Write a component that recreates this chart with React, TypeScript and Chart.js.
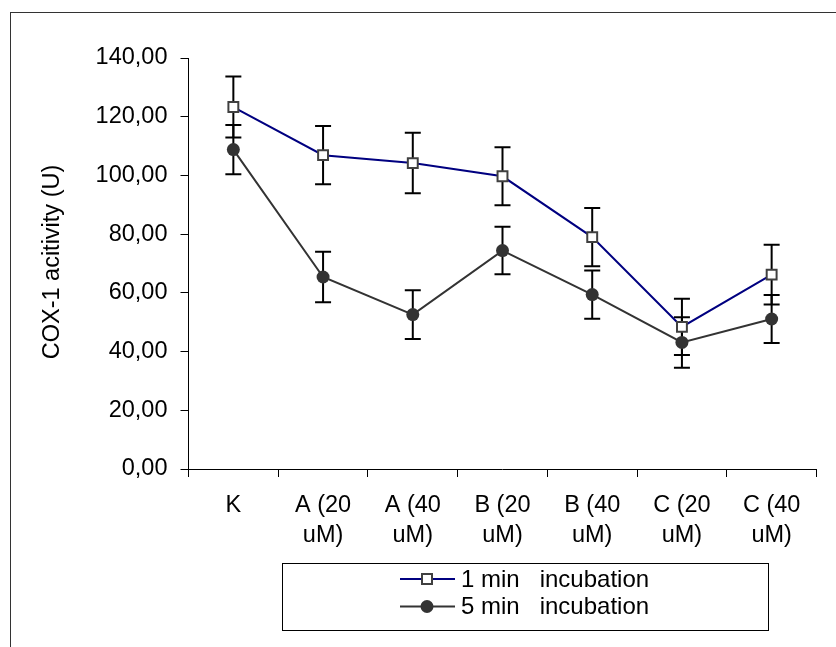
import React, { useEffect, useRef } from "react";
import { Chart, registerables } from "chart.js";

Chart.register(...registerables);

// ---- data ----
const categories: string[][] = [
  ["K"],
  ["A (20", "uM)"],
  ["A (40", "uM)"],
  ["B (20", "uM)"],
  ["B (40", "uM)"],
  ["C (20", "uM)"],
  ["C (40", "uM)"],
];
const seriesNames = ["1 min   incubation", "5 min   incubation"];
const oneMin = [123.3, 106.9, 104.2, 99.7, 79.0, 48.4, 66.2];
const oneMinErr = [10.4, 9.9, 10.3, 9.9, 9.9, 9.6, 10.2];
const fiveMin = [108.8, 65.4, 52.6, 74.4, 59.4, 43.1, 51.1];
const fiveMinErr = [8.4, 8.6, 8.3, 8.1, 8.2, 8.6, 8.2];
const yMin = 0;
const yMax = 140;
const yStep = 20;
const yTitle = "COX-1 acitivity (U)";

const FONT = "'Liberation Sans', Arial, sans-serif";
const NAVY = "#000080";
const DARK = "#333333";
const MARKER_EDGE = "#404040";

const errors = [oneMinErr, fiveMinErr];

const errorBarPlugin = {
  id: "errorBars",
  beforeDatasetsDraw(chart: any) {
    const ctx = chart.ctx;
    const y = chart.scales.y;
    ctx.save();
    ctx.strokeStyle = "#000";
    ctx.lineWidth = 2;
    chart.data.datasets.forEach((ds: any, i: number) => {
      const meta = chart.getDatasetMeta(i);
      meta.data.forEach((pt: any, j: number) => {
        const v = ds.data[j];
        const e = errors[i][j];
        const x = pt.x;
        const top = y.getPixelForValue(v + e);
        const bot = y.getPixelForValue(v - e);
        ctx.beginPath();
        ctx.moveTo(x, top);
        ctx.lineTo(x, bot);
        ctx.moveTo(x - 8, top);
        ctx.lineTo(x + 8, top);
        ctx.moveTo(x - 8, bot);
        ctx.lineTo(x + 8, bot);
        ctx.stroke();
      });
    });
    ctx.restore();
  },
};

const decorPlugin = {
  id: "decor",
  afterDraw(chart: any) {
    const ctx = chart.ctx;
    ctx.save();
    // y-axis title
    ctx.fillStyle = "#000";
    ctx.font = `23.5px ${FONT}`;
    ctx.textAlign = "center";
    ctx.textBaseline = "alphabetic";
    ctx.translate(58.5, 262);
    ctx.rotate(-Math.PI / 2);
    ctx.fillText(yTitle, 0, 0);
    ctx.restore();

    // legend
    ctx.save();
    ctx.strokeStyle = "#000";
    ctx.lineWidth = 1;
    ctx.strokeRect(282.5, 563.5, 486, 67);
    const rows = [579, 606.5];
    // row 1
    ctx.strokeStyle = NAVY;
    ctx.lineWidth = 2;
    ctx.beginPath();
    ctx.moveTo(400, rows[0]);
    ctx.lineTo(455, rows[0]);
    ctx.stroke();
    ctx.fillStyle = "#fff";
    ctx.strokeStyle = MARKER_EDGE;
    ctx.fillRect(422, rows[0] - 5, 10, 10);
    ctx.strokeRect(422, rows[0] - 5, 10, 10);
    // row 2
    ctx.strokeStyle = DARK;
    ctx.beginPath();
    ctx.moveTo(400, rows[1]);
    ctx.lineTo(455, rows[1]);
    ctx.stroke();
    ctx.fillStyle = DARK;
    ctx.beginPath();
    ctx.arc(427, rows[1], 6.5, 0, Math.PI * 2);
    ctx.fill();
    // text
    ctx.fillStyle = "#000";
    ctx.font = `24px ${FONT}`;
    ctx.textAlign = "left";
    ctx.textBaseline = "middle";
    ctx.fillText(seriesNames[0], 461, rows[0] + 1);
    ctx.fillText(seriesNames[1], 461, rows[1] + 1);
    ctx.restore();
  },
};

export default function App() {
  const canvasRef = useRef<HTMLCanvasElement | null>(null);

  useEffect(() => {
    const canvas = canvasRef.current;
    if (!canvas) return;
    const chart = new Chart(canvas, {
      type: "line",
      data: {
        labels: categories as any,
        datasets: [
          {
            label: seriesNames[0],
            data: oneMin,
            borderColor: NAVY,
            borderWidth: 2,
            pointStyle: "rect",
            pointRadius: 7,
            pointBorderWidth: 2,
            pointBackgroundColor: "#fff",
            pointBorderColor: MARKER_EDGE,
            tension: 0,
          },
          {
            label: seriesNames[1],
            data: fiveMin,
            borderColor: DARK,
            borderWidth: 2,
            pointStyle: "circle",
            pointRadius: 6.5,
            pointBorderWidth: 0,
            pointBackgroundColor: DARK,
            pointBorderColor: DARK,
            tension: 0,
          },
        ],
      },
      options: {
        responsive: false,
        animation: false,
        events: [],
        layout: { padding: { top: 58, right: 19.5, left: 0, bottom: 0 } },
        plugins: {
          legend: { display: false },
          tooltip: { enabled: false },
          title: { display: false },
        },
        scales: {
          x: {
            type: "category",
            offset: true,
            grid: {
              offset: true,
              drawOnChartArea: false,
              tickLength: 8,
              color: "#000",
              tickColor: "#000",
            },
            border: { display: true, color: "#000", width: 1 },
            ticks: {
              color: "#000",
              font: { family: FONT, size: 23.5, lineHeight: 1.25 },
              maxRotation: 0,
              minRotation: 0,
              autoSkip: false,
              padding: 14,
            },
            afterFit(scale: any) {
              scale.height = 178;
            },
          },
          y: {
            min: yMin,
            max: yMax,
            grid: {
              drawOnChartArea: false,
              tickLength: 8,
              color: "#000",
              tickColor: "#000",
            },
            border: { display: true, color: "#000", width: 1 },
            ticks: {
              stepSize: yStep,
              color: "#000",
              font: { family: FONT, size: 23.5 },
              padding: 13,
              callback: (v: any) => Number(v).toFixed(2).replace(".", ","),
            },
            afterFit(scale: any) {
              scale.width = 188.5;
            },
          },
        },
      } as any,
      plugins: [errorBarPlugin, decorPlugin],
    });
    return () => chart.destroy();
  }, []);

  return (
    <div
      style={{
        position: "fixed",
        left: 0,
        top: 0,
        width: 836,
        height: 647,
        overflow: "hidden",
        background: "#fff",
      }}
    >
      <div
        style={{
          position: "absolute",
          left: 10,
          top: 12,
          width: 900,
          height: 700,
          borderLeft: "1.5px solid #333",
          borderTop: "1.5px solid #333",
          boxSizing: "border-box",
        }}
      />
      <canvas
        ref={canvasRef}
        width={836}
        height={647}
        style={{ position: "absolute", left: 0, top: 0, display: "block" }}
      />
    </div>
  );
}
